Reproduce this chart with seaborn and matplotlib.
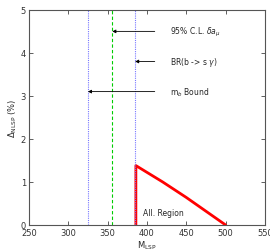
import numpy as np
import pandas as pd
import matplotlib
matplotlib.use("Agg")
import matplotlib.pyplot as plt
import seaborn as sns

# allowed region boundary (M_LSP, Delta_NLSP %)
curve_x = [386, 386, 420, 450, 475, 500]
curve_y = [0.0, 1.38, 1.00, 0.64, 0.32, 0.0]

# constraint lines
mb_bound = 325
amu_bound = 356
bsg_bound = 385

labels = ["95% C.L. $\\delta a_\\mu$", "BR(b -> s $\\gamma$)", "m$_b$ Bound"]
label_y = [4.5, 3.8, 3.1]
label_target = [amu_bound, bsg_bound, mb_bound]

sns.set_style("ticks")
plt.rcParams["font.family"] = ["DejaVu Sans"]
plt.rcParams["font.size"] = 6

fig = plt.figure(figsize=(2.7, 2.53), dpi=100)
ax = fig.add_axes([0.107, 0.107, 0.874, 0.85])

df = pd.DataFrame({"x": curve_x, "y": curve_y})
sns.lineplot(data=df, x="x", y="y", sort=False, estimator=None,
             color="red", lw=2, ax=ax)

for xv, col, ls in [(mb_bound, "#7777ff", (0, (1, 1))), (bsg_bound, "#7777ff", (0, (1, 1))),
                    (amu_bound, "#00cc00", (0, (3, 2)))]:
    vdf = pd.DataFrame({"x": [xv, xv], "y": [0, 5]})
    sns.lineplot(data=vdf, x="x", y="y", sort=False, estimator=None,
                 color=col, lw=0.8, ls=ls, ax=ax)

for txt, yv, xt in zip(labels, label_y, label_target):
    ax.annotate("", xy=(xt, yv), xytext=(410, yv),
                arrowprops=dict(arrowstyle="-|>", color="black", lw=0.6,
                                mutation_scale=5, shrinkA=0, shrinkB=0))
    ax.text(430, yv, txt, va="center", ha="left", fontsize=5.5)

ax.text(395, 0.3, "All. Region", fontsize=5.5, va="center")

ax.set_xlim(250, 550)
ax.set_ylim(0, 5)
ax.set_xticks([250, 300, 350, 400, 450, 500, 550])
ax.set_yticks([0, 1, 2, 3, 4, 5])
ax.tick_params(direction="in", top=True, right=True, length=3, width=0.6,
               labelsize=6, pad=2, colors="#444444", labelcolor="#333333")
for s in ax.spines.values():
    s.set_color("#555555")
    s.set_linewidth(0.8)
ax.set_xlabel("M$_{\\rm LSP}$", fontsize=6, labelpad=1)
ax.set_ylabel("$\\Delta_{\\rm NLSP}$ (%)", fontsize=6, labelpad=1)

fig.savefig("out.png", dpi=100)
